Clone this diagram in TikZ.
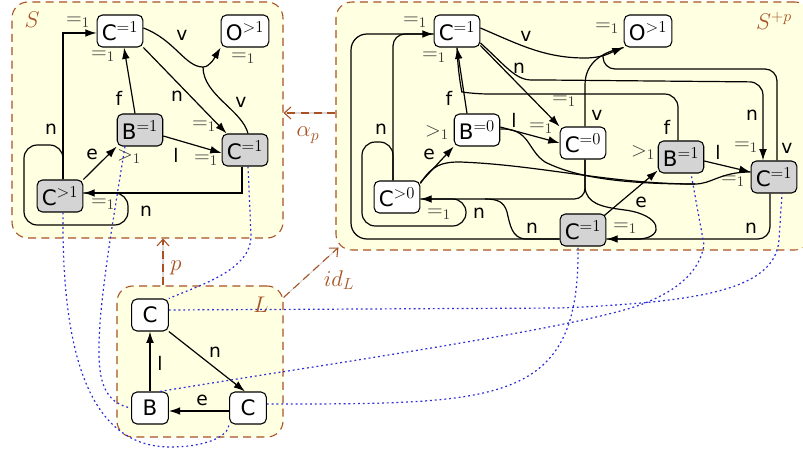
\RequirePackage{fix-cm}
\documentclass[tikz,border=0pt]{standalone}
\usepackage[no-math]{fontspec}
\setsansfont{DejaVu Sans}
\usetikzlibrary{arrows.meta,calc}
\DeclareMathSizes{16}{16}{12.5}{9}
\DeclareMathSizes{17}{17}{12}{9}
\DeclareMathSizes{15.5}{15.5}{11}{8}
\definecolor{frm}{RGB}{168,82,35}
\definecolor{bgy}{RGB}{255,255,226}
\definecolor{ngray}{RGB}{212,212,212}
\definecolor{lab}{RGB}{55,55,55}
\definecolor{dotc}{RGB}{45,45,215}
\tikzset{
 gnode/.style={draw=black, line width=0.8pt, rounded corners=4pt, minimum width=27.5pt, minimum height=24pt, inner xsep=3.5pt, inner ysep=0pt, font=\sffamily\fontsize{16}{16}\selectfont, fill=white},
 mnode/.style={gnode, fill=ngray},
 edge/.style={line width=0.9pt, -{Latex[length=8.5pt,width=5.8pt]}},
 eline/.style={line width=0.9pt},
 elab/.style={font=\sffamily\fontsize{14}{14}\selectfont, inner sep=0pt},
 mlab/.style={text=lab, font=\fontsize{15.5}{15.5}\selectfont, inner sep=0pt},
 frame/.style={draw=frm, dash pattern=on 6pt off 4pt, line width=0.8pt, fill=bgy, rounded corners=12pt},
 flab/.style={text=frm, font=\fontsize{17}{17}\selectfont, inner sep=0pt},
 morph/.style={draw=frm, dash pattern=on 6pt off 4pt, line width=0.8pt, -{Straight Barb[length=5pt,width=9pt]}},
 morphbg/.style={draw=black!15, line width=0.8pt},
 dot/.style={draw=dotc, line width=0.9pt, dash pattern=on 1.4pt off 2.2pt},
}
\begin{document}
\begin{tikzpicture}[x=0.75pt,y=-0.75pt]
\useasboundingbox[fill=white] (0,0) rectangle (803,452);
% frames
\node[frame, minimum width=203.25pt, minimum height=177pt] (FS) at (147.5,120) {};
\node[frame, minimum width=356pt, minimum height=186pt] (FR) at (573.3,126) {};
\node[frame, minimum width=124.5pt, minimum height=113.25pt] (FL) at (200,361.5) {};
\node[flab] (tS) at (32,20) {$S$};
\node[flab] (tR) at (774,21) {$S^{+p}$};
\node[flab] (tL) at (261,305) {$L$};

% morphisms
\draw[morphbg] ($(FR.west)+(0,-13)$) -- ($(FS.east)+(0,-7)$);
\draw[morph] ($(FR.west)+(0,-13)$) -- ($(FS.east)+(0,-7)$);
\node[flab] (tap) at (308,135) {$\alpha_p$};
\draw[morphbg] ($(FL.north)+(-37,0)$) -- ($(FS.south)+(15.5,0)$);
\draw[morph] ($(FL.north)+(-37,0)$) -- ($(FS.south)+(15.5,0)$);
\node[flab] (tp) at (176,268) {$p$};
\draw[morphbg] ($(FL.north east)+(0,12)$) -- ($(FR.south west)+(3,-3)$);
\draw[morph] ($(FL.north east)+(0,12)$) -- ($(FR.south west)+(3,-3)$);
\node[flab] (tid) at (339,280) {$id_L$};

% ---------- S ----------
\node[gnode] (sC1) at (120,31) {C$^{=1}$};
\node[gnode] (sO) at (245,31) {O$^{>1}$};
\node[mnode] (sB) at (140,130) {B$^{=1}$};
\node[mnode] (sCr) at (245,150) {C$^{=1}$};
\node[mnode] (sCl) at (60,196) {C$^{>1}$};
\node[mlab] (s1) at (78,22) {$=_1$};
\node[mlab] (s2) at (103,56) {$=_1$};
\node[mlab] (s3) at (243,58) {$=_1$};
\node[mlab] (s4) at (129,157) {$>_1$};
\node[mlab] (s5) at (204,126) {$=_1$};
\node[mlab] (s6) at (206,160) {$=_1$};
\node[mlab] (s7) at (103,204) {$=_1$};

\draw[edge] ($(sCl.north)+(3,0)$) |- ($(sC1.west)+(0,2)$);
\draw[eline, rounded corners=10pt] ($(sCl.north)+(3,0)$) |- (24,145) |- (128,225) |- ($(sCl.east)+(0,-3)$);
\draw[edge] ($(sCr.south)+(-3,0)$) |- ($(sCl.east)+(0,-3)$);
\draw[edge] (sCl.north east) -- (sB.south west);
\draw[edge] ($(sB.north)+(-5,0)$) -- ($(sC1.south)+(4,0)$);
\draw[edge] ($(sB.east)+(0,6)$) -- ($(sCr.west)+(0,3)$);
\draw[edge] (sC1.south east) -- ($(sCr.north west)+(5,0)$);
\draw[edge] ($(sC1.east)+(0,-3)$) .. controls (175,40) and (185,67) .. (203,67) .. controls (210,67) and (215,57) .. (sO.south west);
\draw[eline] ($(sCr.north)+(3,0)$) .. controls (242,110) and (203,95) .. (203,67);

\node[elab] (sv1) at (182,35) {v};
\node[elab] (sn1) at (177,96) {n};
\node[elab] (sv2) at (241,102) {v};
\node[elab] (sf) at (119,98) {f};
\node[elab] (sn2) at (51,129) {n};
\node[elab] (se) at (92,154) {e};
\node[elab] (sl) at (176,155) {l};
\node[elab] (sn3) at (146,211) {n};

% ---------- S+p ----------
\node[gnode] (rC1) at (457,31) {C$^{=1}$};
\node[gnode] (rO) at (648,31) {O$^{>1}$};
\node[gnode] (rB0) at (477,130) {B$^{=0}$};
\node[gnode] (rC0) at (583,143) {C$^{=0}$};
\node[gnode] (rCp) at (397,197) {C$^{>0}$};
\node[mnode] (rBg) at (681,157) {B$^{=1}$};
\node[mnode] (rCr) at (774,177) {C$^{=1}$};
\node[mnode] (rCb) at (583,230) {C$^{=1}$};

\node[mlab] (r1) at (415,22) {$=_1$};
\node[mlab] (r2) at (434,57) {$=_1$};
\node[mlab] (r3) at (607,28) {$=_1$};
\node[mlab] (r4) at (437,133) {$>_1$};
\node[mlab] (r5) at (564,101) {$=_1$};
\node[mlab] (r6) at (541,128) {$=_1$};
\node[mlab] (r7) at (439,214) {$=_1$};
\node[mlab] (r8) at (643,153) {$>_1$};
\node[mlab] (r9) at (746,147) {$=_1$};
\node[mlab] (r10) at (733,181) {$=_1$};
\node[mlab] (r11) at (625,228) {$=_1$};

% C1 -> O, C0 -> O, Cr -> O
\draw[edge] ($(rC1.east)+(0,-3)$) .. controls (520,45) and (545,58) .. (585,58) .. controls (603,58) and (612,52) .. (rO.south west);
\draw[eline] ($(rC0.north)+(2,0)$) -- (585,85) .. controls (585,62) and (603,52) .. (rO.south west);
\draw[eline, rounded corners=9pt] ($(rCr.north)+(3,0)$) |- (603,69) -- (603,56);
% C1 -> Cr, C1 -> C0
\draw[edge, rounded corners=10pt] ($(rC1.east)+(0,12)$) .. controls (505,65) and (515,80) .. (545,80) -- (763,82) -- ($(rCr.north)+(-11,0)$);
\draw[edge] ($(rC1.south east)+(0,-2)$) -- (rC0.north west);
% f edges
\draw[edge] ($(rB0.north)+(-10,0)$) -- (rC1.south);
\draw[eline, rounded corners=10pt] ($(rBg.north)+(-3,0)$) |- (475,94) .. controls (462,92) and (458,75) .. (rC1.south);
% l edges
\draw[edge] ($(rB0.east)+(0,-3)$) -- (rC0.west);
\draw[eline] ($(rB0.east)+(0,-1)$) .. controls (530,128) and (527,150) .. (545,162) .. controls (575,177) and (620,184) .. (695,184) .. controls (712,184) and (720,172) .. ($(rCr.west)+(0,-5)$);
\draw[eline] ($(rCp.north east)+(0,3)$) .. controls (432,165) and (442,162) .. (460,162) .. controls (540,165) and (610,184) .. (695,184);
\draw[edge] ($(rBg.east)+(0,4)$) -- ($(rCr.west)+(0,-5)$);
% e edges
\draw[edge] ($(rCp.north east)+(0,2)$) -- (rB0.south west);
\draw[edge] ($(rCb.north east)+(-2,2)$) -- ($(rBg.south west)+(0,-3)$);
% n edges into C1
\draw[edge, rounded corners=9pt] ($(rCp.north)+(-4,0)$) |- ($(rC1.west)+(0,3)$);
\draw[eline, rounded corners=12pt] ($(rCb.west)+(0,9)$) -| (351,34) -- ($(rC1.west)+(0,3)$);
% self loop of C>0
\draw[eline, rounded corners=10pt] ($(rCp.north)+(-4,0)$) |- (362,142) |- (466,226) |- ($(rCp.east)+(0,2)$);
% n edges into C>0
\draw[eline] ($(rCb.west)+(0,9)$) -- (525,239) .. controls (512,238) and (510,225) .. (507,212) .. controls (504,202) and (498,199) .. (485,199);
\draw[edge, rounded corners=8pt] ($(rC0.south)+(2,0)$) |- ($(rCp.east)+(0,2)$);
% n edges into C bottom
\draw[eline] ($(rC0.south)+(2,0)$) -- (585,188) .. controls (587,203) and (600,207) .. (625,210) .. controls (662,215) and (665,237) .. (640,239) -- ($(rCb.east)+(0,9)$);
\draw[edge, rounded corners=9pt] ($(rCr.south)+(-4,0)$) |- ($(rCb.east)+(0,9)$);

\node[elab] (rv1) at (526,36) {v};
\node[elab] (rn1) at (519,68) {n};
\node[elab] (rf1) at (449,98) {f};
\node[elab] (rl1) at (514,120) {l};
\node[elab] (rn2) at (381,129) {n};
\node[elab] (re1) at (429,154) {e};
\node[elab] (rn3) at (479,213) {n};
\node[elab] (rn4) at (532,228) {n};
\node[elab] (rv2) at (597,115) {v};
\node[elab] (rf2) at (667,127) {f};
\node[elab] (rn5) at (752,115) {n};
\node[elab] (rv3) at (787,148) {v};
\node[elab] (rl2) at (718,152) {l};
\node[elab] (re2) at (641,202) {e};
\node[elab] (rn6) at (751,228) {n};

% ---------- L ----------
\node[gnode] (Lc1) at (150,315) {C};
\node[gnode] (Lb) at (150,408) {B};
\node[gnode] (Lc2) at (248,408) {C};
\draw[edge] (Lc1.south east) -- ($(Lc2.north)+(-3,0)$);
\draw[edge] ($(Lc2.west)+(0,3)$) -- ($(Lb.east)+(0,3)$);
\draw[edge] (Lb.north) -- (Lc1.south);
\node[elab] (Ln) at (215,352) {n};
\node[elab] (Le) at (202,400) {e};
\node[elab] (Ll) at (160,363) {l};

% ---------- matches ----------
\draw[dot] ($(sCr.south)+(3,0)$) -- (251,235) .. controls (252,270) and (200,285) .. (Lc1.north east);
\draw[dot] ($(sB.south)+(-15,0)$) .. controls (108,250) and (95,330) .. (100,370) .. controls (103,395) and (115,405) .. (Lb.west);
\draw[dot] ($(sCl.south)+(3,0)$) .. controls (62,330) and (80,447) .. (170,447) .. controls (205,447) and (228,437) .. (Lc2.south west);
\draw[dot] ($(Lc1.east)+(0,-5)$) -- (560,308) .. controls (700,302) and (775,290) .. (779,240) -- ($(rCr.south)+(8,0)$);
\draw[dot] ($(Lb.north)+(10,0)$) .. controls (300,368) and (570,330) .. (640,305) .. controls (680,290) and (700,270) .. (704,245) -- ($(rBg.south)+(10,0)$);
\draw[dot] ($(Lc2.east)+(0,-4)$) .. controls (500,404) and (580,405) .. ($(rCb.south)+(-5,0)$);
\end{tikzpicture}
\end{document}
